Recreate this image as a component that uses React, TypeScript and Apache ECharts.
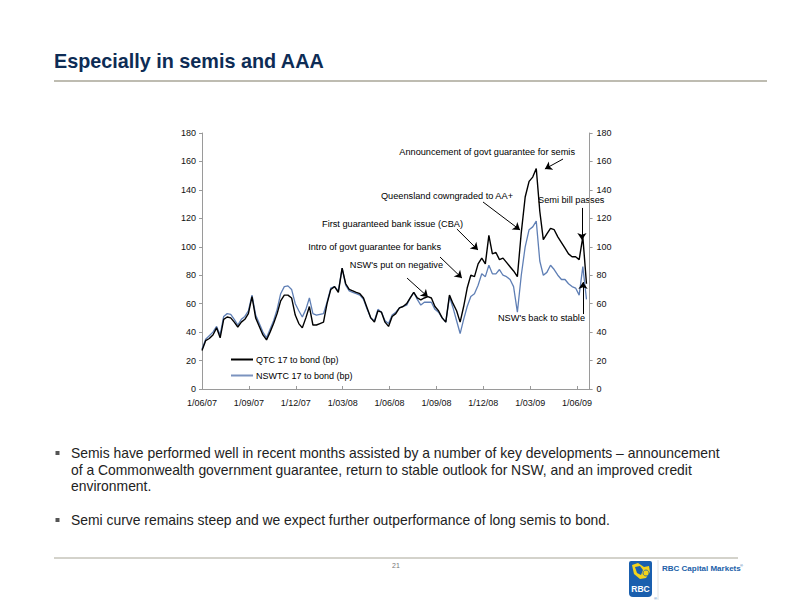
import React, { useEffect, useRef } from "react";
import * as echarts from "echarts";

// Weekly observations starting 1 June 2007 (basis points)
const startDate = "2007-06-01";
const qtc = [27, 34, 35.5, 38, 43, 36, 49, 50.6, 50, 47, 43.6, 47, 49, 53, 65, 50, 44, 38, 34.5, 40, 46, 53, 62, 66, 66, 64, 52, 46, 43, 50, 58, 45, 45, 46, 47, 60, 70, 72, 68, 85, 74, 70, 69, 68, 67, 64, 57, 50, 47, 55, 54, 47, 44, 51, 53, 57, 58, 60, 64, 68, 64, 62.6, 64, 65, 64, 58, 55, 50, 47, 66, 60, 55, 47, 58, 71, 80, 79, 88, 92, 88, 108, 95, 96, 91, 92, 89, 86, 83, 79, 110, 135, 146, 149, 155, 125, 105, 109, 113, 112, 107, 103, 99, 95, 93, 93, 91, 107, 74];
const nswtc = [28, 35, 37.5, 40, 44, 38, 51, 53, 52.5, 49, 45, 49, 51, 55, 66, 52, 46, 40, 36, 42, 48, 56, 67, 72, 72.5, 70, 60, 55, 50.6, 56, 64, 53, 52, 52.5, 53, 61, 71, 72, 69, 85, 73, 69, 68, 67, 66, 63, 56, 50, 48, 56, 54, 48, 46, 52, 54, 57, 58, 59, 64, 68, 63, 59, 61, 61, 61, 56, 54, 50, 47, 65, 57, 48, 39, 49, 58, 65, 67, 73, 81, 79, 87, 81, 81, 84, 80, 79, 77, 72, 54, 80, 100, 112, 114, 118, 90, 80, 82, 87, 84, 80, 77, 77, 74, 72, 71, 66, 86, 63];
const seriesNames = ["QTC 17 to bond (bp)", "NSWTC 17 to bond (bp)"];
const yMin = 0;
const yMax = 180;
const yStep = 20;
const xMaxMonths = 24.8; // months after 1/06/07
const xStepMonths = 3;

// Annotation arrows: [fromMonth, fromValue] -> [toMonth, toValue]
const arrows: [number, number, number, number][] = [
  [23.1, 161.7, 21.94, 154.7],
  [17.98, 131.5, 20.35, 111.8],
  [24.31, 127.3, 24.31, 104.8],
  [16.31, 112.5, 17.66, 97.7],
  [15.23, 92.8, 16.63, 78],
  [13.12, 78, 14.46, 64.7],
  [24.38, 52.7, 24.38, 75.2],
];

const FONT = "Liberation Sans, Arial, Helvetica, sans-serif";

function monthOffset(i: number): number {
  const [sy, sm, sd] = startDate.split("-").map(Number);
  const d = new Date(Date.UTC(sy, sm - 1, sd) + i * 7 * 86400000);
  const y = d.getUTCFullYear();
  const m = d.getUTCMonth();
  const day = d.getUTCDate();
  const dim = new Date(Date.UTC(y, m + 1, 0)).getUTCDate();
  return (y - sy) * 12 + (m - (sm - 1)) + (day - 1) / dim;
}

function fmtMonth(v: number): string {
  const idx = 5 + Math.round(v);
  const year = 2007 + Math.floor(idx / 12);
  const mm = (idx % 12) + 1;
  return "1/" + String(mm).padStart(2, "0") + "/" + String(year % 100).padStart(2, "0");
}

function txt(text: string, x: number, y: number, size: number, opts: any = {}) {
  const align = opts.align || "left";
  return {
    type: "text",
    x,
    y,
    silent: true,
    style: {
      text,
      fill: opts.color || "#000",
      font: `${opts.weight || "normal"} ${size}px ${FONT}`,
      textAlign: align,
      align,
      textVerticalAlign: "middle",
      verticalAlign: "middle",
    },
  };
}

export default function App() {
  const ref = useRef<HTMLDivElement>(null);
  useEffect(() => {
    if (!ref.current) return;
    const chart = echarts.init(ref.current, null, { renderer: "svg" });
    const qData = qtc.map((v, i) => [monthOffset(i), v]);
    const nData = nswtc.map((v, i) => [monthOffset(i), v]);
    const annSize = 9.2;
    const bodySize = 13.9;
    const axisLabelStyle = { fontSize: 9, color: "#111", fontFamily: FONT };
    const option: any = {
      animation: false,
      backgroundColor: "#fff",
      grid: { left: 202, right: 202.4, top: 133, bottom: 223, containLabel: false },
      legend: {
        left: 226,
        top: 350,
        orient: "vertical",
        itemWidth: 22,
        itemHeight: 2,
        itemGap: 7,
        icon: "rect",
        selectedMode: false,
        textStyle: { fontSize: 9, color: "#000", fontFamily: FONT, padding: [0, 0, 0, -2] },
        data: seriesNames,
      },
      xAxis: {
        type: "value",
        min: 0,
        max: xMaxMonths,
        interval: xStepMonths,
        axisLine: { show: true, lineStyle: { color: "#9a9a9a", width: 1 } },
        axisTick: { show: true, inside: true, length: 3, lineStyle: { color: "#9a9a9a" } },
        axisLabel: {
          ...axisLabelStyle,
          formatter: (v: number) => fmtMonth(v),
          showMaxLabel: false,
          margin: 9,
        },
        splitLine: { show: false },
      },
      yAxis: [
        {
          type: "value",
          min: yMin,
          max: yMax,
          interval: yStep,
          position: "left",
          axisLine: { show: true, lineStyle: { color: "#9a9a9a", width: 1 } },
          axisTick: { show: true, length: 3, lineStyle: { color: "#9a9a9a" } },
          axisLabel: { ...axisLabelStyle, margin: 6 },
          splitLine: { show: false },
        },
        {
          type: "value",
          min: yMin,
          max: yMax,
          interval: yStep,
          position: "right",
          axisLine: { show: true, lineStyle: { color: "#9a9a9a", width: 1 } },
          axisTick: { show: true, length: 3, lineStyle: { color: "#9a9a9a" } },
          axisLabel: { ...axisLabelStyle, margin: 7 },
          splitLine: { show: false },
        },
      ],
      series: [
        {
          name: seriesNames[1],
          type: "line",
          data: nData,
          showSymbol: false,
          symbol: "none",
          color: "#7b93bf",
          lineStyle: { color: "#5f7fb5", width: 1.3 },
          z: 2,
        },
        {
          name: seriesNames[0],
          type: "line",
          data: qData,
          showSymbol: false,
          symbol: "none",
          color: "#000",
          lineStyle: { color: "#000", width: 1.4 },
          z: 3,
          markLine: {
            silent: true,
            symbol: ["none", "arrow"],
            symbolSize: 7,
            label: { show: false },
            lineStyle: { color: "#000", width: 1, type: "solid" },
            emphasis: { disabled: true },
            data: arrows.map((a) => [
              { coord: [a[0], a[1]] },
              { coord: [a[2], a[3]] },
            ]),
          },
        },
      ],
      graphic: [
        txt("Especially in semis and AAA", 54, 61, 19.8, { weight: "bold", color: "#0d2c55" }),
        { type: "line", silent: true, shape: { x1: 54, y1: 81, x2: 767, y2: 81 }, style: { stroke: "#a8a697", lineWidth: 1.5 } },
        // annotations
        txt("Announcement of govt guarantee for semis", 575, 152, annSize, { align: "right" }),
        txt("Queensland cowngraded to AA+", 513, 196, annSize, { align: "right" }),
        txt("Semi bill passes", 538, 199.5, annSize),
        txt("First guaranteed bank issue (CBA)", 463, 224, annSize, { align: "right" }),
        txt("Intro of govt guarantee for banks", 441, 247, annSize, { align: "right" }),
        txt("NSW's put on negative", 443, 265, annSize, { align: "right" }),
        txt("NSW's back to stable", 585, 318, annSize, { align: "right" }),
        // bullets
        { type: "rect", silent: true, shape: { x: 55.5, y: 451, width: 4, height: 4 }, style: { fill: "#555" } },
        txt("Semis have performed well in recent months assisted by a number of key developments \u2013 announcement", 71, 453, bodySize, { color: "#222" }),
        txt("of a Commonwealth government guarantee, return to stable outlook for NSW, and an improved credit", 71, 469.5, bodySize, { color: "#222" }),
        txt("environment.", 71, 486, bodySize, { color: "#222" }),
        { type: "rect", silent: true, shape: { x: 55.5, y: 518, width: 4, height: 4 }, style: { fill: "#555" } },
        txt("Semi curve remains steep and we expect further outperformance of long semis to bond.", 71, 520, bodySize, { color: "#222" }),
        // footer
        { type: "line", silent: true, shape: { x1: 54, y1: 558, x2: 738, y2: 558 }, style: { stroke: "#a8a697", lineWidth: 1 } },
        txt("21", 396, 565, 7, { color: "#777", align: "center" }),
        { type: "line", silent: true, shape: { x1: 658, y1: 560, x2: 658, y2: 600 }, style: { stroke: "#e2e2e2", lineWidth: 1 } },
        { type: "rect", silent: true, shape: { x: 629, y: 561, width: 23, height: 36, r: [2, 2, 4, 4] }, style: { fill: "#1a5fae" } },
        { type: "polygon", silent: true, shape: { points: [[632, 565], [638, 563], [644, 567], [649, 566], [650, 572], [646, 578], [640, 579], [634, 574]] }, style: { fill: "#f3d31c" } },
        { type: "polygon", silent: true, shape: { points: [[635, 567], [640, 566], [643, 570], [641, 575], [637, 573]] }, style: { fill: "#1a5fae" } },
        { type: "circle", silent: true, shape: { cx: 646, cy: 573, r: 3 }, style: { fill: "#f3d31c", stroke: "#1a5fae", lineWidth: 0.8 } },
        txt("RBC", 640.5, 589, 8.5, { weight: "bold", color: "#fff", align: "center" }),
        txt("\u00AE", 654, 598, 4, { color: "#1a5fae" }),
        txt("RBC Capital Markets", 662, 568, 8, { weight: "bold", color: "#2160a8" }),
        txt("\u00AE", 740, 565, 4, { color: "#2160a8" }),
      ],
    };
    chart.setOption(option);
    return () => chart.dispose();
  }, []);
  return (
    <div
      ref={ref}
      style={{ position: "absolute", left: 0, top: 0, width: 792, height: 612 }}
    />
  );
}
